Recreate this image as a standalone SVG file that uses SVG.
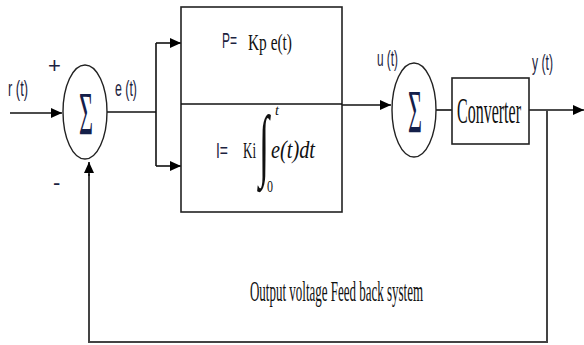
<svg xmlns="http://www.w3.org/2000/svg" width="584" height="345" viewBox="0 0 584 345">
<style>
.ln{fill:none;stroke:#111;stroke-width:1.6}
.fb{fill:none;stroke:#444;stroke-width:2}
.sum{fill:#fff;stroke:#222;stroke-width:1.4}
.box{fill:#fff;stroke:#222;stroke-width:1.6}
.lbl{font-family:"Liberation Sans",Arial,sans-serif;font-size:22px;fill:#1c2340}
.ser{font-family:"Liberation Serif","Times New Roman",serif;fill:#111}
.sig{font-family:"Liberation Serif","Times New Roman",serif;font-size:62px;fill:#14204a}
</style>
<defs>
<marker id="ah" markerUnits="userSpaceOnUse" markerWidth="12" markerHeight="10" refX="11" refY="5" orient="auto">
<path d="M0,0 L11,5 L0,10 z" fill="#000"/>
</marker>
</defs>
<rect width="584" height="345" fill="#fff"/>
<g id="connectors">
<path class="ln" d="M10,113 H62" marker-end="url(#ah)"/>
<path class="ln" d="M107,112 H156"/>
<path class="ln" d="M156,43 V166"/>
<path class="ln" d="M156,43 H181" marker-end="url(#ah)"/>
<path class="ln" d="M156,166 H181" marker-end="url(#ah)"/>
<path class="ln" d="M342,105 H391" marker-end="url(#ah)"/>
<path class="ln" d="M436,110 H452"/>
<path class="ln" d="M529,110 H584" marker-end="url(#ah)"/>
<path class="fb" d="M547,110 V342 H89 V174"/>
<path class="ln" d="M89,176 V162" marker-end="url(#ah)"/>
</g>
<g id="sum1">
<ellipse class="sum" cx="85" cy="112" rx="22" ry="47"/>
<text class="sig" x="79" y="134" textLength="14" lengthAdjust="spacingAndGlyphs">Σ</text>
</g>
<g id="pi-block">
<rect class="box" x="181" y="7" width="161" height="205"/>
<line class="ln" x1="181" y1="104" x2="342" y2="104"/>
<text class="lbl" x="222" y="48" font-size="20" textLength="15" lengthAdjust="spacingAndGlyphs">P=</text>
<text class="ser" x="248" y="50" font-size="23" textLength="44" lengthAdjust="spacingAndGlyphs">Kp e(t)</text>
<text class="lbl" x="216" y="158" font-size="21" textLength="12" lengthAdjust="spacingAndGlyphs">I=</text>
<text class="ser" x="243" y="158" font-size="24" textLength="13" lengthAdjust="spacingAndGlyphs">Ki</text>
<text class="ser" x="259" y="171" font-size="80" textLength="10" lengthAdjust="spacingAndGlyphs">∫</text>
<text class="ser" x="275" y="115" font-size="14" font-style="italic">t</text>
<text class="ser" x="267" y="192" font-size="16" textLength="6" lengthAdjust="spacingAndGlyphs">0</text>
<text class="ser" x="271" y="158" font-size="26" font-style="italic" textLength="44" lengthAdjust="spacingAndGlyphs">e(t)dt</text>
</g>
<g id="sum2">
<ellipse class="sum" cx="414" cy="110" rx="22" ry="47"/>
<text class="sig" x="408" y="132" textLength="14" lengthAdjust="spacingAndGlyphs">Σ</text>
</g>
<g id="converter">
<rect class="box" x="452" y="78" width="77" height="66"/>
<text class="ser" x="457" y="123" font-size="36" textLength="64" lengthAdjust="spacingAndGlyphs">Converter</text>
</g>
<g id="labels">
<text class="lbl" x="8" y="96" textLength="20" lengthAdjust="spacingAndGlyphs">r (t)</text>
<text class="lbl" x="115" y="96" textLength="22" lengthAdjust="spacingAndGlyphs">e (t)</text>
<text class="lbl" x="377" y="66" textLength="21" lengthAdjust="spacingAndGlyphs">u (t)</text>
<text class="lbl" x="532" y="70" textLength="21" lengthAdjust="spacingAndGlyphs">y (t)</text>
<text class="lbl" x="48" y="73" font-size="14">+</text>
<text class="lbl" x="53" y="190" font-size="14">-</text>
<text class="ser" x="250" y="301" font-size="30" textLength="173" lengthAdjust="spacingAndGlyphs">Output voltage Feed back system</text>
</g>
</svg>
